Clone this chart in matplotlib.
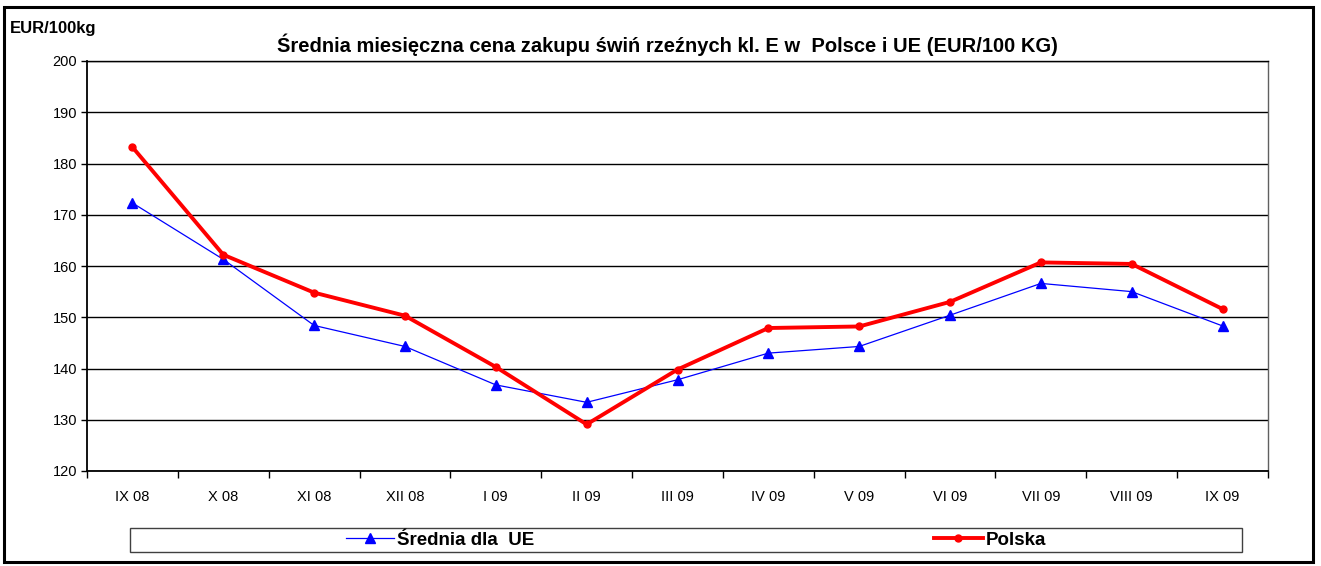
import matplotlib
matplotlib.use("Agg")
import matplotlib.pyplot as plt
from matplotlib.patches import Rectangle
from matplotlib.lines import Line2D

plt.rcParams['font.family'] = ['Liberation Sans', 'DejaVu Sans']

# months (tick labels)
months = ["IX 08", "X 08", "XI 08", "XII 08", "I 09", "II 09", "III 09",
          "IV 09", "V 09", "VI 09", "VII 09", "VIII 09", "IX 09"]

# average for EU
ue = [172.3, 161.3, 148.4, 144.3, 136.8, 133.4, 137.8,
      143.0, 144.3, 150.4, 156.6, 155.0, 148.3]

# Poland
polska = [183.2, 162.2, 154.8, 150.3, 140.3, 129.1, 139.8,
          147.9, 148.2, 153.0, 160.7, 160.4, 151.6]

y_ticks = [120, 130, 140, 150, 160, 170, 180, 190, 200]

W, H = 1321, 566
fig = plt.figure(figsize=(W / 100, H / 100), dpi=100)

# plot area in pixels: left 87, right 1268, top 61, bottom 471
ax = fig.add_axes([87 / W, 1 - 471 / H, (1268 - 87) / W, (471 - 61) / H])

x = list(range(len(months)))
ax.plot(x, ue, color='#0000ff', lw=0.9, marker='^', ms=7, mec='#0000ff',
        mfc='#0000ff', zorder=3)
ax.plot(x, polska, color='#ff0000', lw=2.8, marker='o', ms=5, mec='#ff0000',
        mfc='#ff0000', zorder=4)

ax.set_xlim(-0.5, len(months) - 0.5)
ax.set_ylim(120, 200)
ax.set_yticks(y_ticks)
ax.set_yticklabels([str(v) for v in y_ticks], fontsize=10.5)
ax.yaxis.grid(True, color='black', lw=1)
ax.set_axisbelow(True)

# tick marks at category boundaries, labels at centres
ax.set_xticks([i - 0.5 for i in range(len(months) + 1)])
ax.set_xticklabels([])
ax.set_xticks(x, minor=True)
ax.set_xticklabels(months, minor=True, fontsize=10.5)
ax.tick_params(axis='x', which='major', length=5, width=1, direction='out')
ax.tick_params(axis='x', which='minor', length=0, pad=14)
ax.tick_params(axis='y', length=4, width=1, direction='out', pad=3)

for s in ax.spines.values():
    s.set_color('black')
    s.set_linewidth(1)
ax.spines['left'].set_linewidth(1.3)
ax.spines['bottom'].set_linewidth(1.3)
ax.spines['right'].set_color('#606060')

fig.text(667 / W, 1 - 45 / H, "Średnia miesięczna cena zakupu świń rzeźnych kl. E w  Polsce i UE (EUR/100 KG)",
         ha='center', va='center', fontsize=14.5, fontweight='bold')
fig.text(10 / W, 1 - 28 / H, "EUR/100kg", ha='left', va='center',
         fontsize=12, fontweight='bold')

# legend box
fig.patches.append(Rectangle((130 / W, 1 - 552 / H), (1242 - 130) / W, 24 / H,
                             transform=fig.transFigure, fill=False,
                             edgecolor='#404040', lw=1))
h_ue = Line2D([], [], color='#0000ff', lw=0.9, marker='^', ms=7)
h_pl = Line2D([], [], color='#ff0000', lw=2.8, marker='o', ms=5)
fig.legend([h_ue], ["Średnia dla  UE"], loc='center', bbox_to_anchor=(440 / W, 1 - 540 / H),
           frameon=False, prop={'weight': 'bold', 'size': 13.5}, handlelength=2.6,
           handletextpad=0.15)
fig.legend([h_pl], ["Polska"], loc='center', bbox_to_anchor=(990 / W, 1 - 540 / H),
           frameon=False, prop={'weight': 'bold', 'size': 13.5}, handlelength=2.6,
           handletextpad=0.15)

# outer frame
fig.patches.append(Rectangle((4 / W, 1 - 562 / H), (1313 - 4) / W, (562 - 7) / H,
                             transform=fig.transFigure, fill=False,
                             edgecolor='black', lw=2.2))

fig.savefig("out.png", dpi=100)
